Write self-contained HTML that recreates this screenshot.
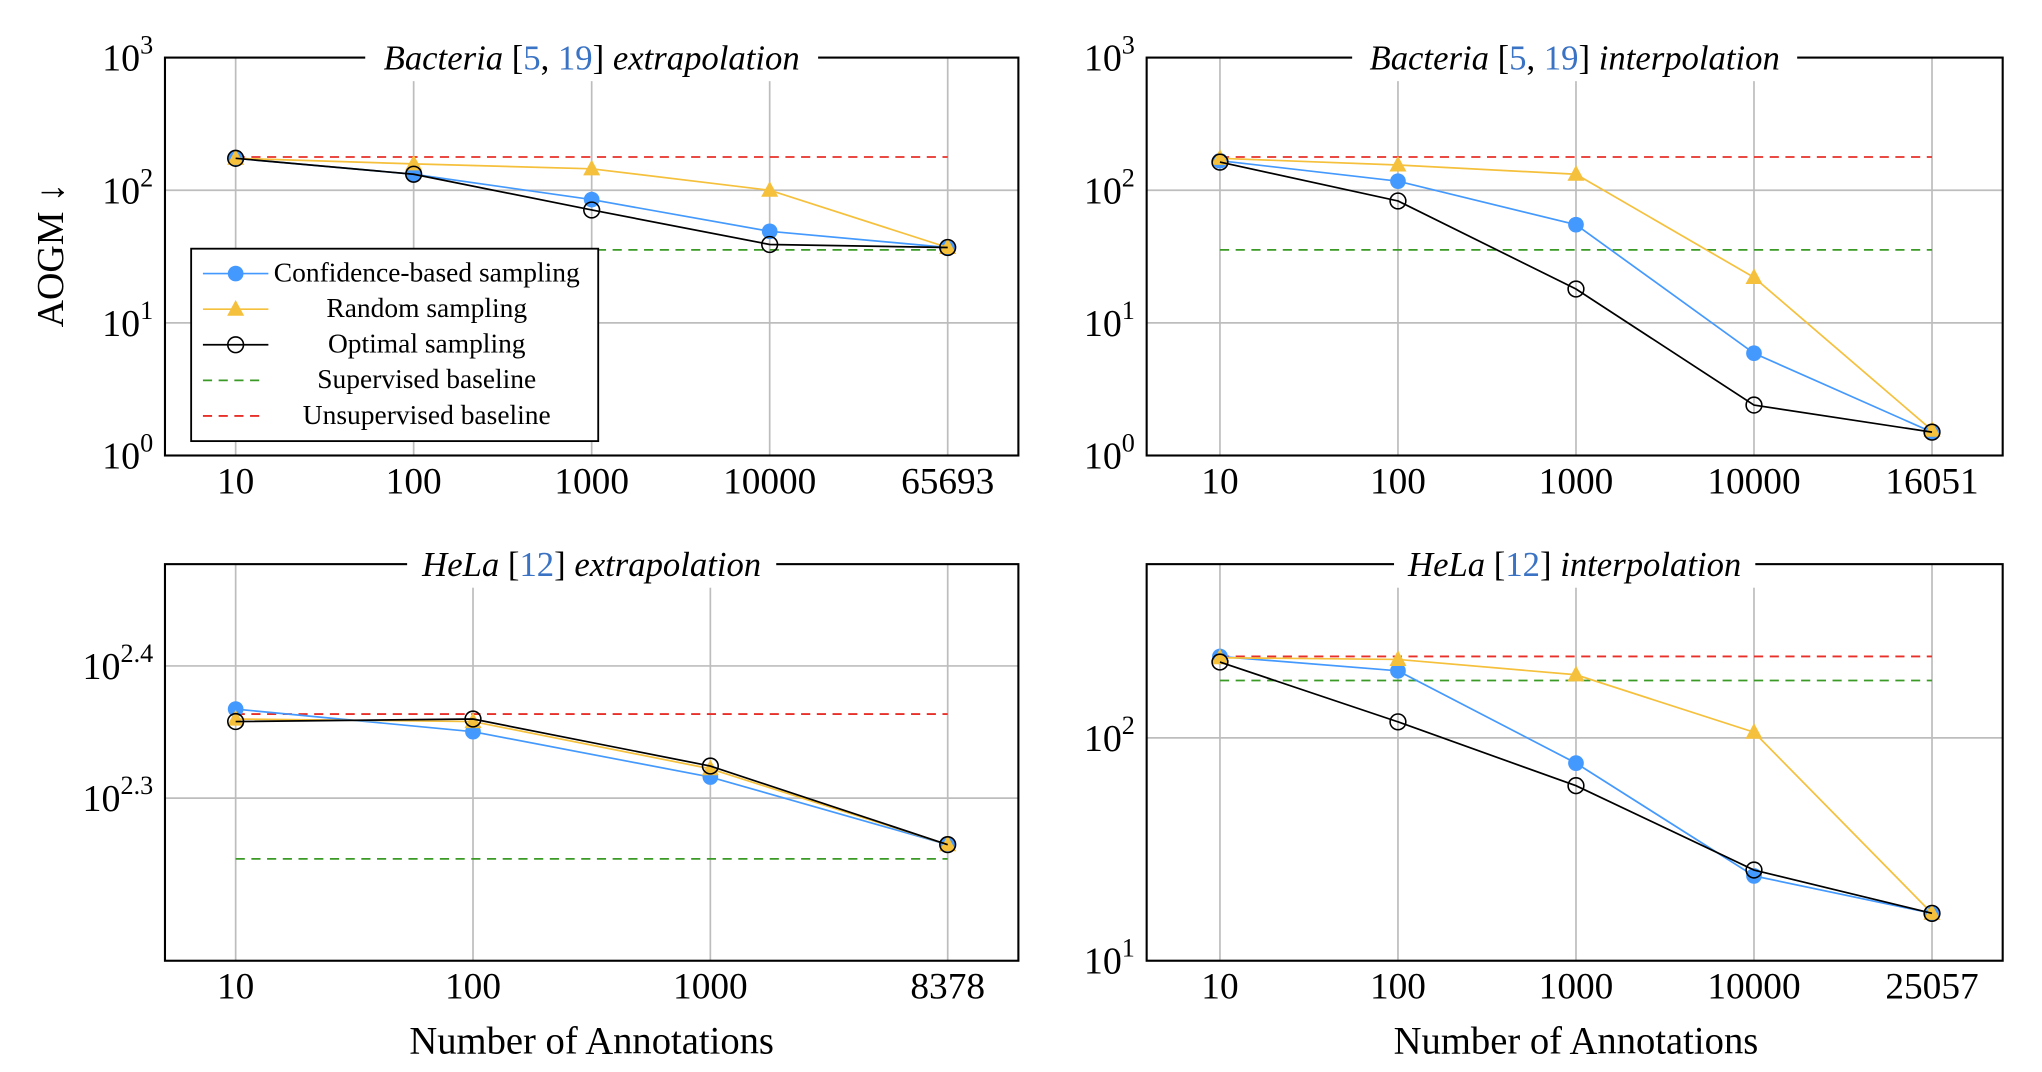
<!DOCTYPE html>
<html><head><meta charset="utf-8"><style>
html,body{margin:0;padding:0;background:#fff;}
svg{display:block;}
text{font-family:"Liberation Serif",serif;fill:#000;}
</style></head><body>
<svg id="chart" width="2042" height="1072" viewBox="0 0 1560 819" xmlns="http://www.w3.org/2000/svg"></svg>
<script>
// ---- data ----
const catsTL = ["10","100","1000","10000","65693"];
const confTL = [174,132,85,49,37];
const randTL = [174,158,145,100,37];
const optTL  = [174,132,71,39,37];
const supTL = 35.5, unsupTL = 178;

const catsTR = ["10","100","1000","10000","16051"];
const confTR = [167,117,55,5.9,1.5];
const randTR = [174,155,132,22,1.55];
const optTR  = [163,83,18,2.4,1.5];
const supTR = 35.5, unsupTR = 178;

const catsBL = ["10","100","1000","8378"];
const confBL = [233,224,207,184];
const randBL = [229,228,210,184];
const optBL  = [228,229,211,184];
const supBL = 179.5, unsupBL = 231;

const catsBR = ["10","100","1000","10000","25057"];
const confBR = [232,200,77,24,16.3];
const randBR = [229,225,192,106,16.3];
const optBR  = [219,118,61,25.5,16.3];
const supBR = 181, unsupBR = 232;

const ticksTop = [0,1,2,3];
const ticksBL = [2.3,2.4];
const ticksBR = [1,2];

const NS = "http://www.w3.org/2000/svg";
const svg = document.getElementById("chart");
function mk(tag, attrs, parent){
  const e = document.createElementNS(NS, tag);
  for (const k in attrs) e.setAttribute(k, attrs[k]);
  (parent||svg).appendChild(e);
  return e;
}
const BLUE="#4499ff", YEL="#f5c03b", RED="#e8302a", GRN="#3a9a25";

function panel(p){
  const g = mk("g",{});
  
  
  const n = p.cats.length;
  const xOf = i => p.x0 + (p.x1 - p.x0) * i / (n - 1);
  const yOf = v => p.yB - (Math.log10(v) - p.lmin) / (p.lmax - p.lmin) * (p.yB - p.yT);
  const yOfL = l => p.yB - (l - p.lmin) / (p.lmax - p.lmin) * (p.yB - p.yT);
  p.ticks.forEach(t => {
    const y = yOfL(t);
    const gl = mk("line",{x1:p.L,x2:p.R,y1:y,y2:y,stroke:"#bdbdbd","stroke-width":1.3},g);
    
    
    const tx = mk("text",{x:p.L-9,y:y+10,"text-anchor":"end","font-size":29},g);
    
    
    tx.appendChild(document.createTextNode("10"));
    const sup = mk("tspan",{dy:-13,"font-size":20},tx);
    sup.textContent = String(t);
  });
  p.cats.forEach((c,i) => {
    const x = xOf(i);
    const gl = mk("line",{x1:x,x2:x,y1:p.T,y2:p.B,stroke:"#bdbdbd","stroke-width":1.3},g);
    
    
    const tx = mk("text",{x:x,y:p.B+29,"text-anchor":"middle","font-size":28.5},g);
    
    
    tx.textContent = c;
  });
  const bl = (v,col,nm) => {
    const l = mk("line",{x1:xOf(0),x2:xOf(n-1),y1:yOf(v),y2:yOf(v),stroke:col,"stroke-width":1.4,"stroke-dasharray":"7 5"},g);
    
    
  };
  bl(p.sup, GRN, 'supervised-baseline');
  bl(p.unsup, RED, 'unsupervised-baseline');
  const series = (vals,col,kind,nm) => {
    const pl = mk("polyline",{points:vals.map((v,i)=>xOf(i)+","+yOf(v)).join(" "),fill:"none",stroke:col,"stroke-width":1.3},g);
    
    
    vals.forEach((v,i)=>{
      const x = xOf(i), y = yOf(v);
      let m;
      if (kind==="c") m = mk("circle",{cx:x,cy:y,r:6,fill:BLUE},g);
      else if (kind==="t") m = mk("polygon",{points:`${x},${y-7} ${x-6.5},${y+5} ${x+6.5},${y+5}`,fill:YEL},g);
      else m = mk("circle",{cx:x,cy:y,r:6,fill:"none",stroke:"#000","stroke-width":1.2},g);
      
      
    });
  };
  series(p.conf, BLUE, "c", 'confidence-sampling');
  series(p.rand, YEL, "t", 'random-sampling');
  series(p.opt, "#000", "o", 'optimal-sampling');
  const fr = mk("rect",{x:p.L,y:p.T,width:p.R-p.L,height:p.B-p.T,fill:"none",stroke:"#000","stroke-width":1.6},g);
  
  
  const cx = (p.L+p.R)/2;
  const tb = mk("rect",{x:cx-p.tw/2,y:p.T-18,width:p.tw,height:36,fill:"#fff"},g);
  
  
  const tt = mk("text",{x:cx,y:p.T+9,"text-anchor":"middle","font-size":26.5},g);
  
  
  p.title.forEach(([s,st])=>{
    const ts = mk("tspan",{},tt);
    if (st==="i") ts.setAttribute("font-style","italic");
    if (st==="b") ts.setAttribute("fill","#3a73c4");
    ts.textContent = s;
  });
  return g;
}

panel({name:"bacteria-extrapolation-panel",L:126,R:778,T:44,B:348,x0:180,x1:724,yT:44,yB:348,lmin:0,lmax:3,
  ticks:ticksTop,cats:catsTL,conf:confTL,rand:randTL,opt:optTL,sup:supTL,unsup:unsupTL,tw:346,
  title:[["Bacteria","i"],[" [",""],["5","b"],[", ",""],["19","b"],["]  ",""],["extrapolation","i"]]});
panel({name:"bacteria-interpolation-panel",L:876,R:1530,T:44,B:348,x0:932,x1:1476,yT:44,yB:348,lmin:0,lmax:3,
  ticks:ticksTop,cats:catsTR,conf:confTR,rand:randTR,opt:optTR,sup:supTR,unsup:unsupTR,tw:340,
  title:[["Bacteria","i"],[" [",""],["5","b"],[", ",""],["19","b"],["]  ",""],["interpolation","i"]]});
panel({name:"hela-extrapolation-panel",L:126,R:778,T:431,B:734,x0:180,x1:724,yT:431,yB:734,lmin:2.177,lmax:2.477,
  ticks:ticksBL,cats:catsBL,conf:confBL,rand:randBL,opt:optBL,sup:supBL,unsup:unsupBL,tw:282,
  title:[["HeLa","i"],[" [",""],["12","b"],["] ",""],["extrapolation","i"]]});
panel({name:"hela-interpolation-panel",L:876,R:1530,T:431,B:734,x0:932,x1:1476,yT:431,yB:734,lmin:0.9994,lmax:2.78,
  ticks:ticksBR,cats:catsBR,conf:confBR,rand:randBR,opt:optBR,sup:supBR,unsup:unsupBR,tw:276,
  title:[["HeLa","i"],[" [",""],["12","b"],["] ",""],["interpolation","i"]]});

let t = mk("text",{x:0,y:0,"text-anchor":"middle","font-size":29,transform:"translate(48,195) rotate(-90)"});


t.textContent = "AOGM \u2193";
[452,1204].forEach(x=>{
  const a = mk("text",{x:x,y:805,"text-anchor":"middle","font-size":29.5});
  
  
  a.textContent = "Number of Annotations";
});

const lg = mk("g",{});


mk("rect",{x:146,y:190,width:311,height:147,fill:"#fff",stroke:"#000","stroke-width":1.4},lg);
const entries = [["Confidence-based sampling",BLUE,"c"],["Random sampling",YEL,"t"],["Optimal sampling","#000","o"],["Supervised baseline",GRN,"d"],["Unsupervised baseline",RED,"d"]];
entries.forEach(([lab,col,k],i)=>{
  const y = 209 + i*27.2;
  const e = mk("g",{},lg);
  
  
  if (k==="d") mk("line",{x1:155,x2:203,y1:y,y2:y,stroke:col,"stroke-width":1.4,"stroke-dasharray":"7 5"},e);
  else mk("line",{x1:155,x2:205,y1:y,y2:y,stroke:col,"stroke-width":1.3},e);
  if (k==="c") mk("circle",{cx:180,cy:y,r:6,fill:BLUE},e);
  if (k==="t") mk("polygon",{points:`180,${y-7} 173.5,${y+5} 186.5,${y+5}`,fill:YEL},e);
  if (k==="o") mk("circle",{cx:180,cy:y,r:6,fill:"none",stroke:"#000","stroke-width":1.2},e);
  const tx = mk("text",{x:326,y:y+6,"text-anchor":"middle","font-size":21},e);
  tx.textContent = lab;
});
</script>
</body></html>
